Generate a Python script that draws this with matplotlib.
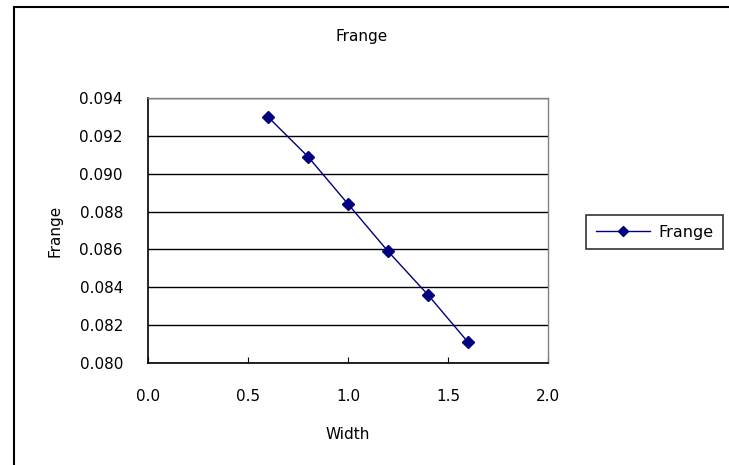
import matplotlib
matplotlib.use("Agg")
import matplotlib.pyplot as plt
from matplotlib.patches import Rectangle

width = [0.6, 0.8, 1.0, 1.2, 1.4, 1.6]
frange = [0.0930, 0.0909, 0.0884, 0.0859, 0.0836, 0.0811]
x_ticks = [0.0, 0.5, 1.0, 1.5, 2.0]
y_ticks = [0.080, 0.082, 0.084, 0.086, 0.088, 0.090, 0.092, 0.094]

plt.rcParams['font.family'] = ['DejaVu Sans']

fig = plt.figure(figsize=(7.29, 4.65), dpi=100)
# outer chart frame
fig.patches.append(Rectangle((14 / 729, -0.02), 1.0, 1 - 7 / 465 + 0.02,
                             transform=fig.transFigure, fill=False,
                             edgecolor='black', linewidth=1.5))

ax = fig.add_axes([148 / 729, 1 - 363 / 465, 400 / 729, 265 / 465])
ax.plot(width, frange, color='#000080', linewidth=1, marker='D',
        markersize=6, label='Frange')

ax.set_xlim(0, 2.0)
ax.set_ylim(0.080, 0.094)
ax.set_xticks(x_ticks)
ax.set_yticks(y_ticks)
ax.set_xticklabels([f"{v:.1f}" for v in x_ticks])
ax.set_yticklabels([f"{v:.3f}" for v in y_ticks])
ax.tick_params(axis='both', direction='in', labelsize=11, length=4, color='black')
ax.tick_params(axis='x', pad=19)
ax.tick_params(axis='y', pad=18, length=0)

ax.yaxis.grid(True, color='black', linewidth=1)
ax.set_axisbelow(True)
for side in ['left', 'bottom']:
    ax.spines[side].set_color('black')
    ax.spines[side].set_linewidth(1.2)
for side in ['top', 'right']:
    ax.spines[side].set_color('#808080')
    ax.spines[side].set_linewidth(1)

ax.set_xlabel('Width', fontsize=11, labelpad=16)
ax.set_ylabel('Frange', fontsize=11, labelpad=12)
fig.text(362 / 729, 1 - 37 / 465, 'Frange', ha='center', va='center', fontsize=11)

leg = ax.legend(loc='center left', bbox_to_anchor=(586 / 729, 1 - 232 / 465),
                bbox_transform=fig.transFigure, frameon=True, fancybox=False,
                edgecolor='black', fontsize=11.5, handlelength=3.4,
                borderpad=0.6, borderaxespad=0, handletextpad=0.5,
                markerscale=0.85)
leg.get_frame().set_linewidth(1.2)

fig.savefig('out.png', dpi=100)
